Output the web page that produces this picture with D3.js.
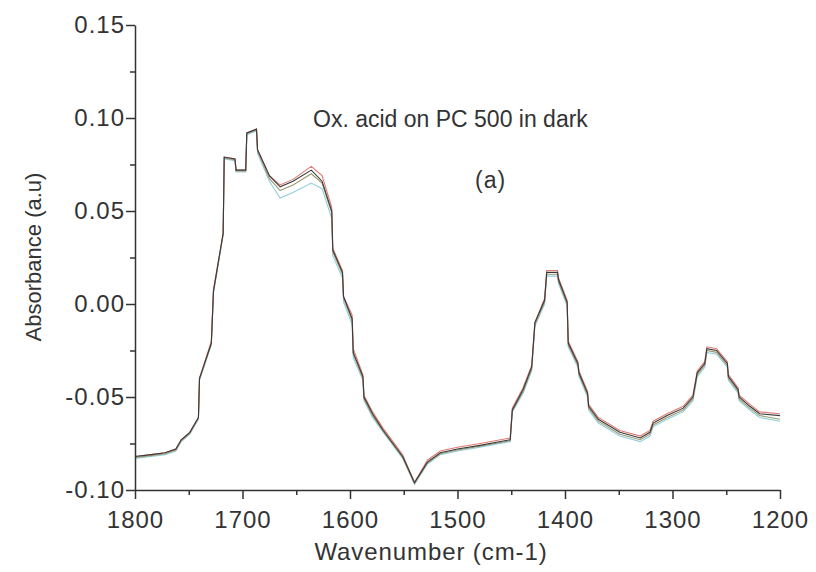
<!DOCTYPE html>
<html>
<head>
<meta charset="utf-8">
<script src="https://cdn.jsdelivr.net/npm/d3@7"></script>
<style>
  body { margin: 0; background: #fff; }
  svg text { font-family: "Liberation Sans", Arial, sans-serif; fill: #333; }
  .axis path, .axis line { stroke: #333; stroke-width: 1.5; }
</style>
</head>
<body>
<div id="chart"></div>
<script>
// wavenumbers (cm-1), repeated values are the vertical jumps of the stepped trace
var wavenumber = [
  1800,1785,1772,1762,1757,1749,1741,1740,1729,1727,
  1718,1717,1707,1706,1697,1696,1687,1686,1675,1665,
  1653,1636,1626,1617,1616,1607,1606,1598,1597,1588,
  1587,1579,1569,1560,1551,1540,1528,1516,1500,1479,
  1451,1449,1439,1431,1428,1419,1417,1407,1406,1398,
  1397,1388,1387,1379,1378,1369,1349,1330,1321,1318,
  1305,1290,1281,1277,1270,1268,1259,1249,1248,1239,
  1238,1228,1219,1200
];

var blackSeries = [
  -0.082,-0.081,-0.080,-0.078,-0.073,-0.069,-0.061,-0.040,-0.021,0.007,
  0.038,0.079,0.078,0.072,0.072,0.092,0.094,0.083,0.069,0.063,
  0.066,0.072,0.066,0.050,0.029,0.017,0.004,-0.008,-0.026,-0.039,
  -0.050,-0.059,-0.068,-0.075,-0.082,-0.096,-0.085,-0.080,-0.078,-0.076,
  -0.073,-0.057,-0.046,-0.034,-0.010,0.002,0.017,0.017,0.013,0.001,
  -0.021,-0.032,-0.037,-0.048,-0.055,-0.062,-0.069,-0.072,-0.069,-0.064,
  -0.060,-0.056,-0.050,-0.037,-0.032,-0.024,-0.025,-0.032,-0.039,-0.046,
  -0.050,-0.055,-0.059,-0.060
];

var redSeries = [
  -0.082,-0.081,-0.080,-0.078,-0.073,-0.069,-0.061,-0.040,-0.020,0.008,
  0.038,0.079,0.078,0.072,0.072,0.092,0.094,0.083,0.069,0.064,
  0.067,0.074,0.069,0.052,0.030,0.018,0.004,-0.006,-0.024,-0.038,
  -0.049,-0.058,-0.067,-0.074,-0.081,-0.096,-0.084,-0.079,-0.077,-0.075,
  -0.072,-0.056,-0.045,-0.033,-0.010,0.003,0.018,0.018,0.014,0.002,
  -0.020,-0.031,-0.036,-0.047,-0.054,-0.061,-0.068,-0.071,-0.068,-0.063,
  -0.059,-0.055,-0.049,-0.036,-0.031,-0.023,-0.024,-0.031,-0.038,-0.045,
  -0.049,-0.054,-0.058,-0.059
];

var cyanSeries = [
  -0.083,-0.082,-0.081,-0.079,-0.074,-0.070,-0.062,-0.041,-0.022,0.006,
  0.037,0.078,0.077,0.071,0.071,0.091,0.093,0.081,0.066,0.057,
  0.060,0.065,0.062,0.046,0.026,0.014,0.001,-0.011,-0.029,-0.041,
  -0.052,-0.061,-0.069,-0.076,-0.083,-0.097,-0.086,-0.081,-0.079,-0.077,
  -0.074,-0.058,-0.048,-0.036,-0.012,0.000,0.015,0.015,0.011,-0.001,
  -0.023,-0.034,-0.039,-0.050,-0.057,-0.064,-0.071,-0.074,-0.071,-0.066,
  -0.062,-0.058,-0.052,-0.039,-0.034,-0.026,-0.027,-0.034,-0.041,-0.048,
  -0.052,-0.057,-0.061,-0.063
];

var oliveSeries = [
  -0.0825,-0.0815,-0.0805,-0.0785,-0.0735,-0.0695,-0.0615,-0.0405,-0.0215,0.0065,
  0.0375,0.0785,0.0775,0.0715,0.0715,0.0915,0.0935,0.082,0.0675,0.061,
  0.064,0.070,0.065,0.049,0.028,0.016,0.003,-0.009,-0.027,-0.040,
  -0.051,-0.060,-0.0685,-0.0755,-0.0825,-0.0965,-0.0855,-0.0805,-0.0785,-0.0765,
  -0.0735,-0.0575,-0.047,-0.035,-0.011,0.001,0.016,0.016,0.012,0.000,
  -0.022,-0.033,-0.038,-0.049,-0.056,-0.063,-0.070,-0.073,-0.070,-0.065,
  -0.061,-0.057,-0.051,-0.038,-0.033,-0.025,-0.026,-0.033,-0.040,-0.047,
  -0.051,-0.056,-0.060,-0.062
];

var xTicks = [1800, 1700, 1600, 1500, 1400, 1300, 1200];
var xMinor = [1750, 1650, 1550, 1450, 1350, 1250];
var yTicks = [-0.10, -0.05, 0.00, 0.05, 0.10, 0.15];
var yMinor = [-0.075, -0.025, 0.025, 0.075, 0.125];

var series = [
  {name: "cyan", values: cyanSeries, color: "#8fcfe0"},
  {name: "olive", values: oliveSeries, color: "#9a9a72"},
  {name: "red", values: redSeries, color: "#e07a72"},
  {name: "black", values: blackSeries, color: "#3a3a3a"}
];

var width = 816, height = 572;
var margin = {left: 135, right: 780, top: 25, bottom: 490};

var x = d3.scaleLinear().domain([1800, 1200]).range([margin.left, margin.right]);
var y = d3.scaleLinear().domain([-0.10, 0.15]).range([margin.bottom, margin.top]);

var svg = d3.select("#chart").append("svg")
    .attr("width", width)
    .attr("height", height);

var line = d3.line()
    .x(function(d, i) { return x(wavenumber[i]); })
    .y(function(d) { return y(d); });

svg.selectAll("path.spec")
    .data(series)
    .enter().append("path")
    .attr("class", "spec")
    .attr("fill", "none")
    .attr("stroke", function(d) { return d.color; })
    .attr("stroke-width", 1.1)
    .attr("d", function(d) { return line(d.values); });

// x axis
var gx = svg.append("g")
    .attr("class", "axis")
    .attr("transform", "translate(0," + margin.bottom + ")")
    .call(d3.axisBottom(x).tickValues(xTicks).tickSize(9).tickSizeOuter(0).tickFormat(d3.format("d")));
gx.selectAll("text")
    .attr("y", 21)
    .style("font-size", "24px")
    .style("letter-spacing", "1px");

svg.append("g")
    .attr("class", "axis")
    .attr("transform", "translate(0," + margin.bottom + ")")
    .call(d3.axisBottom(x).tickValues(xMinor).tickSize(5).tickSizeOuter(0).tickFormat(""))
    .select(".domain").remove();

// y axis
var gy = svg.append("g")
    .attr("class", "axis")
    .attr("transform", "translate(" + margin.left + ",0)")
    .call(d3.axisLeft(y).tickValues(yTicks).tickSize(9).tickSizeOuter(0).tickPadding(1)
      .tickFormat(function(d) { return d.toFixed(2); }));
gy.selectAll("text")
    .style("font-size", "24px")
    .style("letter-spacing", "1px");

svg.append("g")
    .attr("class", "axis")
    .attr("transform", "translate(" + margin.left + ",0)")
    .call(d3.axisLeft(y).tickValues(yMinor).tickSize(5).tickSizeOuter(0).tickFormat(""))
    .select(".domain").remove();

// labels
svg.append("text")
    .attr("x", 431)
    .attr("y", 560)
    .attr("text-anchor", "middle")
    .style("font-size", "24px")
    .style("letter-spacing", "0.9px")
    .text("Wavenumber (cm-1)");

svg.append("text")
    .attr("transform", "translate(41,257) rotate(-90)")
    .attr("text-anchor", "middle")
    .style("font-size", "22px")
    .text("Absorbance (a.u)");

svg.append("text")
    .attr("x", 313)
    .attr("y", 127)
    .style("font-size", "23px")
    .text("Ox. acid on PC 500 in dark");

svg.append("text")
    .attr("x", 475)
    .attr("y", 188)
    .style("font-size", "23px")
    .style("letter-spacing", "1px")
    .text("(a)");
</script>
</body>
</html>
